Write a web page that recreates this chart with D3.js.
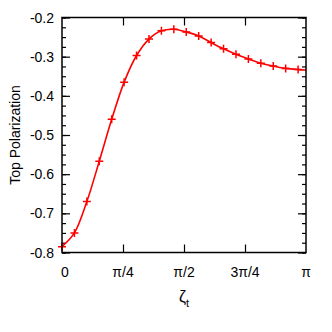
<!DOCTYPE html>
<html>
<head>
<meta charset="utf-8">
<script src="https://cdn.jsdelivr.net/npm/d3@7"></script>
<style>
    body { margin: 0; background: #fff; }
    svg { display: block; font-family: "Liberation Sans", Arial, sans-serif; }
</style>
</head>
<body>
<div id="chart"></div>
<script>
// Data
const zetaValues = [0, 0.16, 0.32, 0.48, 0.64, 0.80, 0.96, 1.12, 1.28, 1.44, 1.60, 1.76, 1.92, 2.08, 2.24, 2.40, 2.56, 2.72, 2.88, 3.04];
const polarization = [-0.785, -0.750, -0.670, -0.567, -0.460, -0.365, -0.297, -0.255, -0.234, -0.230, -0.237, -0.247, -0.264, -0.280, -0.294, -0.306, -0.317, -0.324, -0.330, -0.333];
// the drawn curve runs on to the right edge
const curveEnd = [Math.PI, -0.334];

const xTickValues = [0, Math.PI / 4, Math.PI / 2, 3 * Math.PI / 4, Math.PI];
const xTickLabels = ["0", "π/4", "π/2", "3π/4", "π"];
const yTickValues = [-0.8, -0.7, -0.6, -0.5, -0.4, -0.3, -0.2];

var width = 332,
    height = 332;
// plot box edges (note: "top" is taken by window.top)
var plotLeft = 62, plotRight = 306, plotTop = 17.5, plotBottom = 252.5;

let svg = d3.select("#chart").append("svg")
    .attr("width", width)
    .attr("height", height);

// Set the ranges
var x = d3.scaleLinear().domain([0, Math.PI]).range([plotLeft, plotRight]);
var y = d3.scaleLinear().domain([-0.8, -0.2]).range([plotBottom, plotTop]);

// minor ticks on y every 0.025
var yMinor = d3.range(-0.8, -0.2 + 1e-9, 0.025).map(v => +v.toFixed(3));

// left and right ticks, pointing inward
svg.append("g")
    .attr("transform", "translate(" + plotLeft + ",0)")
    .call(d3.axisRight(y).tickValues(yMinor).tickSize(4).tickFormat(""))
    .call(g => g.select(".domain").remove());
svg.append("g")
    .attr("transform", "translate(" + plotLeft + ",0)")
    .call(d3.axisRight(y).tickValues(yTickValues).tickSize(8).tickFormat(""))
    .call(g => g.select(".domain").remove());
svg.append("g")
    .attr("transform", "translate(" + plotRight + ",0)")
    .call(d3.axisLeft(y).tickValues(yMinor).tickSize(4).tickFormat(""))
    .call(g => g.select(".domain").remove());
svg.append("g")
    .attr("transform", "translate(" + plotRight + ",0)")
    .call(d3.axisLeft(y).tickValues(yTickValues).tickSize(8).tickFormat(""))
    .call(g => g.select(".domain").remove());

// top and bottom ticks
svg.append("g")
    .attr("transform", "translate(0," + plotBottom + ")")
    .call(d3.axisTop(x).tickValues(xTickValues.slice(1, 4)).tickSize(8).tickFormat(""))
    .call(g => g.select(".domain").remove());
svg.append("g")
    .attr("transform", "translate(0," + plotTop + ")")
    .call(d3.axisBottom(x).tickValues(xTickValues.slice(1, 4)).tickSize(8).tickFormat(""))
    .call(g => g.select(".domain").remove());

svg.selectAll(".tick line").attr("stroke", "#000").attr("stroke-width", 1.2);

// tick labels
svg.append("g")
    .selectAll("text")
    .data(yTickValues)
    .join("text")
    .attr("x", plotLeft - 8)
    .attr("y", d => y(d))
    .attr("dy", "0.36em")
    .attr("text-anchor", "end")
    .attr("font-size", 14)
    .text(d => d.toFixed(1));

svg.append("g")
    .selectAll("text")
    .data(xTickValues)
    .join("text")
    .attr("x", (d, i) => x(d) + (i == 0 ? 3 : 0))
    .attr("y", 277)
    .attr("text-anchor", "middle")
    .attr("font-size", 14)
    .text((d, i) => xTickLabels[i]);

// axis titles
let xTitle = svg.append("text")
    .attr("x", (plotLeft + plotRight) / 2)
    .attr("y", 302)
    .attr("text-anchor", "middle")
    .attr("font-size", 16);
xTitle.append("tspan").text("ζ");
xTitle.append("tspan").attr("font-size", 11).attr("dy", 5).text("t");

svg.append("text")
    .attr("transform", "translate(20," + (plotTop + plotBottom) / 2 + ") rotate(-90)")
    .attr("text-anchor", "middle")
    .attr("font-size", 14)
    .text("Top Polarization");

// curve
var points = zetaValues.map((d, i) => [d, polarization[i]]);
var line = d3.line()
    .x(d => x(d[0]))
    .y(d => y(d[1]))
    .curve(d3.curveCatmullRom);

svg.append("path")
    .datum(points.concat([curveEnd]))
    .attr("d", line)
    .attr("fill", "none")
    .attr("stroke", "#ff0000")
    .attr("stroke-width", 1.6);

// + markers
svg.append("g")
    .selectAll("path")
    .data(points)
    .join("path")
    .attr("transform", d => "translate(" + x(d[0]) + "," + y(d[1]) + ")")
    .attr("d", "M-4,0H4M0,-4V4")
    .attr("stroke", "#ff0000")
    .attr("stroke-width", 1.5);

// frame
svg.append("rect")
    .attr("x", plotLeft)
    .attr("y", plotTop)
    .attr("width", plotRight - plotLeft)
    .attr("height", plotBottom - plotTop)
    .attr("fill", "none")
    .attr("stroke", "#000")
    .attr("stroke-width", 1.5);
</script>
</body>
</html>
